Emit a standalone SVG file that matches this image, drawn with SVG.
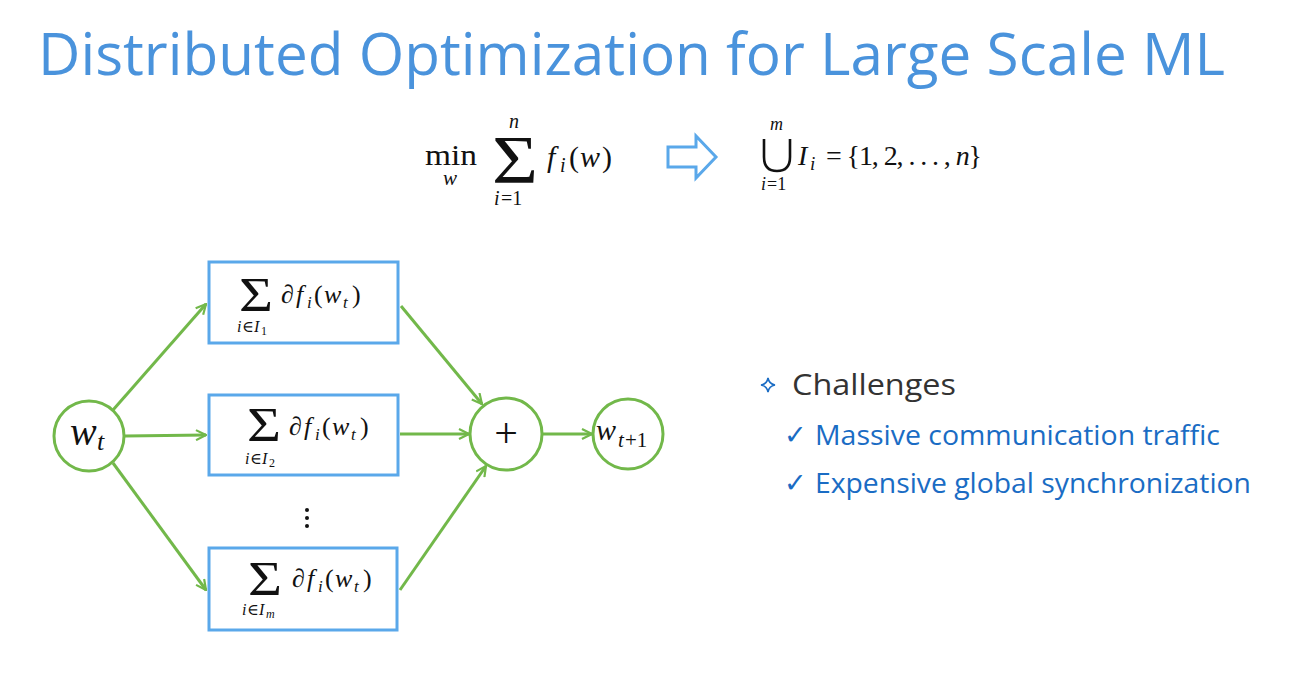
<svg xmlns="http://www.w3.org/2000/svg" width="1298" height="696" viewBox="0 0 1298 696">
<defs>
<marker id="ah" viewBox="0 0 12 12" refX="11" refY="6" markerWidth="12" markerHeight="12" markerUnits="userSpaceOnUse" orient="auto">
<path d="M1,1 L11,6 L1,11" fill="none" stroke="#72b84a" stroke-width="2.2"/>
</marker>
<style>
.title{font-family:"Open Sans","Noto Sans",sans-serif;font-size:58px;fill:#4a93dc}
.m{font-family:"Liberation Serif","DejaVu Serif",serif;fill:#111}
.mi{font-family:"Liberation Serif","DejaVu Serif",serif;font-style:italic;fill:#111}
.box{fill:#fff;stroke:#5aa8ea;stroke-width:3}
.circ{fill:#fff;stroke:#72b84a;stroke-width:3}
.con{stroke:#72b84a;stroke-width:3;fill:none;marker-end:url(#ah)}
.h{font-family:"Open Sans","Noto Sans",sans-serif;font-size:30px;fill:#333}
.b{font-family:"Open Sans","Noto Sans",sans-serif;font-size:27px;fill:#1a6cc4}
</style>
</defs>
<rect width="1298" height="696" fill="#fff"/>
<text class="title" x="38" y="75" textLength="1187" lengthAdjust="spacingAndGlyphs">Distributed Optimization for Large Scale ML</text>

<g id="formula-left">
<text class="m" x="425" y="165" font-size="30" textLength="52" lengthAdjust="spacingAndGlyphs">min</text>
<text class="mi" x="443" y="185" font-size="21">w</text>
<text class="m" x="492" y="182" font-size="68" textLength="46" lengthAdjust="spacingAndGlyphs">Σ</text>
<text class="mi" x="509" y="128" font-size="20">n</text>
<text class="mi" x="494" y="205" font-size="20">i</text><text class="m" x="501" y="205" font-size="20">=1</text>
<text class="mi" x="547" y="167" font-size="30">f</text><text class="mi" x="560" y="172" font-size="20">i</text><text class="m" x="569" y="167" font-size="30">(</text><text class="mi" x="580" y="167" font-size="30">w</text><text class="m" x="602" y="167" font-size="30">)</text>
</g>
<g id="arrow-hollow">
<path d="M668,147 L696,147 L696,136 L716,157 L696,178 L696,167 L668,167 Z" fill="none" stroke="#5aa8ea" stroke-width="3"/>
</g>
<g id="formula-right">
<path d="M764,139 L764,157 Q764,171 777,171 Q790,171 790,157 L790,139" fill="none" stroke="#111" stroke-width="2.6"/>
<text class="mi" x="770" y="130" font-size="18">m</text>
<text class="mi" x="761" y="190" font-size="18">i</text><text class="m" x="767" y="190" font-size="18">=1</text>
<text class="mi" x="798" y="165" font-size="28">I</text><text class="mi" x="810" y="170" font-size="19">i</text>
<text class="m" x="826" y="165" font-size="28" textLength="156" lengthAdjust="spacing">= {1, 2, . . . , <tspan font-style="italic">n</tspan>}</text>
</g>

<g id="connectors">
<line class="con" x1="113" y1="410" x2="206" y2="304"/>
<line class="con" x1="125" y1="436" x2="206" y2="435"/>
<line class="con" x1="113" y1="463" x2="206" y2="590"/>
<line class="con" x1="401" y1="306" x2="482" y2="404"/>
<line class="con" x1="400" y1="434" x2="469" y2="434"/>
<line class="con" x1="400" y1="590" x2="486" y2="466"/>
<line class="con" x1="542" y1="434" x2="592" y2="434"/>
</g>

<g id="node-wt">
<circle class="circ" cx="89" cy="436" r="35"/>
<text class="mi" x="70" y="445" font-size="40">w</text><text class="mi" x="97" y="450" font-size="26">t</text>
</g>
<g id="node-box1">
<rect class="box" x="209" y="262" width="189" height="81"/>
<text class="m" x="239" y="311" font-size="48" textLength="34" lengthAdjust="spacingAndGlyphs">Σ</text>
<text class="m" x="281" y="303" font-size="26">∂</text><text class="mi" x="296" y="303" font-size="26">f</text><text class="mi" x="307" y="308" font-size="17">i</text><text class="m" x="314" y="303" font-size="26">(</text><text class="mi" x="324" y="303" font-size="26">w</text><text class="mi" x="343" y="308" font-size="17">t</text><text class="m" x="352" y="303" font-size="26">)</text>
<text class="mi" x="237" y="332" font-size="16">i</text><text class="m" x="242" y="332" font-size="16">∈</text><text class="mi" x="254" y="332" font-size="16">I</text><text class="m" x="261" y="335" font-size="12">1</text>
</g>
<g id="node-box2">
<rect class="box" x="209" y="395" width="189" height="80"/>
<text class="m" x="247" y="441" font-size="48" textLength="34" lengthAdjust="spacingAndGlyphs">Σ</text>
<text class="m" x="289" y="435" font-size="26">∂</text><text class="mi" x="304" y="435" font-size="26">f</text><text class="mi" x="315" y="440" font-size="17">i</text><text class="m" x="322" y="435" font-size="26">(</text><text class="mi" x="332" y="435" font-size="26">w</text><text class="mi" x="351" y="440" font-size="17">t</text><text class="m" x="360" y="435" font-size="26">)</text>
<text class="mi" x="245" y="464" font-size="16">i</text><text class="m" x="250" y="464" font-size="16">∈</text><text class="mi" x="262" y="464" font-size="16">I</text><text class="m" x="269" y="467" font-size="12">2</text>
</g>
<g id="dots">
<circle cx="307" cy="510" r="2" fill="#111"/>
<circle cx="307" cy="518" r="2" fill="#111"/>
<circle cx="307" cy="526" r="2" fill="#111"/>
</g>
<g id="node-box3">
<rect class="box" x="209" y="548" width="188" height="82"/>
<text class="m" x="248" y="595" font-size="48" textLength="34" lengthAdjust="spacingAndGlyphs">Σ</text>
<text class="m" x="292" y="587" font-size="26">∂</text><text class="mi" x="307" y="587" font-size="26">f</text><text class="mi" x="318" y="592" font-size="17">i</text><text class="m" x="325" y="587" font-size="26">(</text><text class="mi" x="335" y="587" font-size="26">w</text><text class="mi" x="354" y="592" font-size="17">t</text><text class="m" x="363" y="587" font-size="26">)</text>
<text class="mi" x="242" y="615" font-size="16">i</text><text class="m" x="247" y="615" font-size="16">∈</text><text class="mi" x="259" y="615" font-size="16">I</text><text class="mi" x="266" y="618" font-size="12">m</text>
</g>
<g id="node-plus">
<circle class="circ" cx="506" cy="434" r="36"/>
<text class="m" x="506" y="447" font-size="42" text-anchor="middle">+</text>
</g>
<g id="node-wt1">
<circle class="circ" cx="628" cy="434" r="35"/>
<text class="mi" x="596" y="440" font-size="30">w</text><text class="mi" x="618" y="447" font-size="21">t</text><text class="m" x="625" y="447" font-size="21">+1</text>
</g>

<g id="challenges">
<path d="M768,378 Q769,384 775,385 Q769,386 768,392 Q767,386 761,385 Q767,384 768,378 Z" fill="none" stroke="#1a6cc4" stroke-width="1.6"/>
<text class="h" x="792" y="395" textLength="164" lengthAdjust="spacingAndGlyphs">Challenges</text>
<text class="b" x="784" y="444" font-size="18">✓</text>
<text class="b" x="815" y="445" textLength="405" lengthAdjust="spacingAndGlyphs">Massive communication traffic</text>
<text class="b" x="784" y="492" font-size="18">✓</text>
<text class="b" x="815" y="493" textLength="436" lengthAdjust="spacingAndGlyphs">Expensive global synchronization</text>
</g>
</svg>
